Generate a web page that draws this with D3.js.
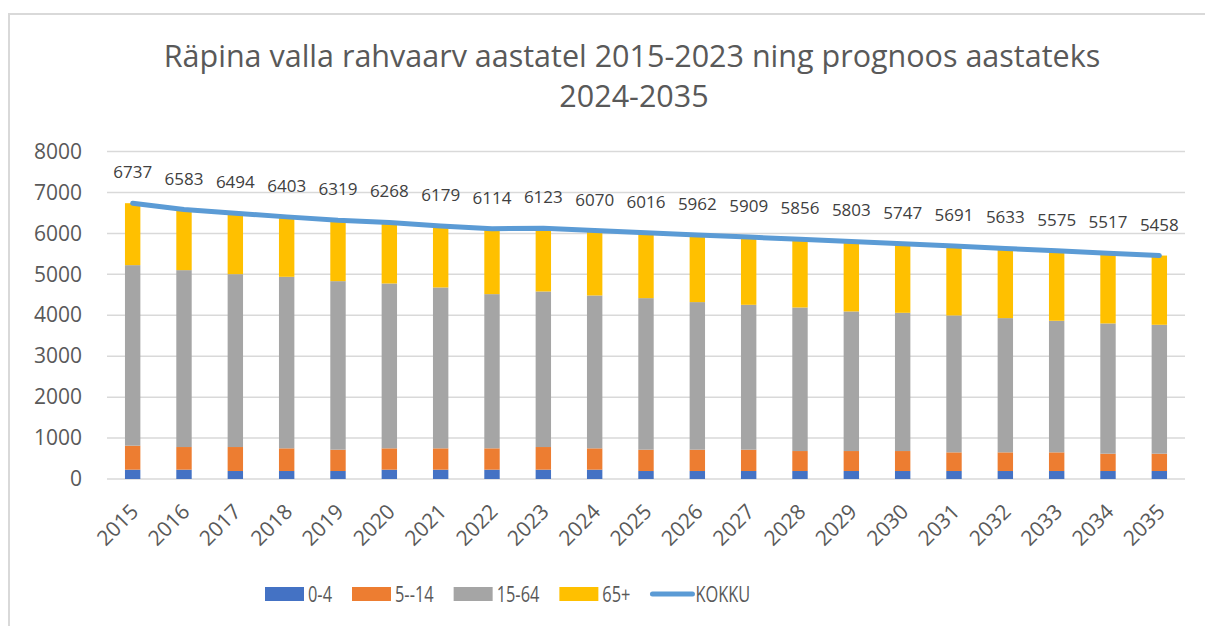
<!DOCTYPE html>
<html>
<head>
<meta charset="utf-8">
<script src="https://cdn.jsdelivr.net/npm/d3@7"></script>
<style>
  body { margin: 0; background: #fff; }
  svg { display: block; font-family: "Open Sans", sans-serif; }
</style>
</head>
<body>
<svg id="chart"></svg>
<script>
// data
const years = ["2015","2016","2017","2018","2019","2020","2021","2022","2023","2024","2025",
               "2026","2027","2028","2029","2030","2031","2032","2033","2034","2035"];
const age0_4   = [228,228,195,195,195,228,228,228,228,228,195,195,195,195,195,195,195,195,195,195,195];
const age5_14  = [586,553,586,554,521,521,521,521,553,521,521,521,521,488,488,488,456,456,456,423,423];
const age15_64 = [4410,4321,4223,4190,4117,4027,3930,3767,3800,3734,3702,3605,3539,3507,3410,3377,3344,3279,3214,3182,3149];
const age65    = [1513,1481,1490,1464,1486,1492,1500,1598,1542,1587,1598,1641,1654,1666,1710,1687,1696,1703,1710,1717,1691];
const kokku    = [6737,6583,6494,6403,6319,6268,6179,6114,6123,6070,6016,5962,5909,5856,5803,5747,5691,5633,5575,5517,5458];
const yTicks   = [0,1000,2000,3000,4000,5000,6000,7000,8000];

const seriesNames  = ["0-4", "5--14", "15-64", "65+"];
const seriesColors = ["#4472c4", "#ed7d31", "#a5a5a5", "#ffc000"];
const lineColor = "#5b9bd5";
const textColor = "#595959";

const WIDTH = 1205, HEIGHT = 626;
const PLOT = { LEFT: 107, RIGHT: 1185, TOP: 151.5, BOTTOM: 479 };

let svg = d3.select("#chart").attr("width", WIDTH).attr("height", HEIGHT);

// chart area border
svg.append("rect")
  .attr("x", 9).attr("y", 14)
  .attr("width", WIDTH + 20).attr("height", HEIGHT + 20)
  .attr("fill", "none").attr("stroke", "#d9d9d9").attr("stroke-width", 2);

// title
svg.append("text")
  .attr("x", 632).attr("y", 67)
  .attr("text-anchor", "middle")
  .attr("font-size", 30.5).attr("fill", textColor)
  .text("Räpina valla rahvaarv aastatel 2015-2023 ning prognoos aastateks");
svg.append("text")
  .attr("x", 634).attr("y", 107)
  .attr("text-anchor", "middle")
  .attr("font-size", 30.5).attr("fill", textColor)
  .text("2024-2035");

let rows = years.map((y, i) => ({
  year: y, "0-4": age0_4[i], "5--14": age5_14[i], "15-64": age15_64[i], "65+": age65[i], total: kokku[i]
}));

let xScale = d3.scaleBand()
  .domain(years)
  .range([PLOT.LEFT, PLOT.RIGHT])
  .paddingInner(0.7)
  .paddingOuter(0.35);

let yScale = d3.scaleLinear()
  .domain([0, 8000])
  .range([PLOT.BOTTOM, PLOT.TOP]);

// gridlines
svg.append("g")
  .selectAll("line")
  .data(yTicks)
  .enter()
    .append("line")
    .attr("x1", PLOT.LEFT).attr("x2", PLOT.RIGHT)
    .attr("y1", d => yScale(d)).attr("y2", d => yScale(d))
    .attr("stroke", "#d9d9d9").attr("stroke-width", 1.5);

// y axis labels
let yAxis = svg.append("g")
  .attr("transform", `translate(${PLOT.LEFT - 25},0)`)
  .call(d3.axisLeft(yScale).tickValues(yTicks).tickSize(0).tickPadding(0).tickFormat(d3.format("d")));
yAxis.select(".domain").remove();
yAxis.selectAll("text")
  .attr("font-family", "Open Sans, sans-serif")
  .attr("font-size", 21).attr("fill", textColor);

// stacked bars
let stack = d3.stack().keys(seriesNames)(rows);
svg.append("g")
  .selectAll("g")
  .data(stack)
  .enter()
    .append("g")
    .attr("fill", (d, i) => seriesColors[i])
    .selectAll("rect")
    .data(d => d)
    .enter()
      .append("rect")
      .attr("x", d => xScale(d.data.year))
      .attr("width", xScale.bandwidth())
      .attr("y", d => yScale(d[1]))
      .attr("height", d => yScale(d[0]) - yScale(d[1]));

// x axis labels
let xAxis = svg.append("g")
  .attr("transform", `translate(0,${PLOT.BOTTOM})`)
  .call(d3.axisBottom(xScale).tickSize(0).tickPadding(0));
xAxis.select(".domain").remove();
xAxis.selectAll("text")
  .attr("font-family", "Open Sans, sans-serif")
  .attr("font-size", 21).attr("fill", textColor)
  .attr("text-anchor", "end")
  .attr("dy", 0)
  .attr("y", 0)
  .attr("transform", "translate(7,34) rotate(-45)");

// total line
let line = d3.line()
  .x(d => xScale(d.year) + xScale.bandwidth() / 2)
  .y(d => yScale(d.total));

svg.append("path")
  .datum(rows)
  .attr("d", line)
  .attr("fill", "none")
  .attr("stroke", lineColor)
  .attr("stroke-width", 5)
  .attr("stroke-linecap", "round")
  .attr("stroke-linejoin", "round");

// total data labels
svg.append("g")
  .selectAll("text")
  .data(rows)
  .enter()
    .append("text")
    .attr("x", d => xScale(d.year) + xScale.bandwidth() / 2)
    .attr("y", d => yScale(d.total) - 25)
    .attr("text-anchor", "middle")
    .attr("font-size", 17)
    .attr("fill", "#404040")
    .text(d => d.total);

// legend (reference text is narrow, so squeeze it horizontally)
const LEGEND_SQUEEZE = 0.78;
let legend = svg.append("g")
  .attr("transform", "translate(265,594)")
  .attr("font-size", 21)
  .attr("fill", textColor);

let legendItems = seriesNames.map((n, i) => ({ name: n, color: seriesColors[i], type: "rect" }))
  .concat([{ name: "KOKKU", color: lineColor, type: "line" }]);

let cursor = 0;
legendItems.forEach(function(item) {
  let g = legend.append("g").attr("transform", `translate(${cursor},0)`);
  if (item.type === "rect") {
    g.append("rect")
      .attr("x", 0).attr("y", -7)
      .attr("width", 39).attr("height", 14)
      .attr("fill", item.color);
  } else {
    g.append("line")
      .attr("x1", 2).attr("x2", 42)
      .attr("y1", 0).attr("y2", 0)
      .attr("stroke", item.color)
      .attr("stroke-width", 5)
      .attr("stroke-linecap", "round");
  }
  let offset = item.type === "rect" ? 43 : 45;
  let t = g.append("text")
    .attr("transform", `translate(${offset},0) scale(${LEGEND_SQUEEZE},1)`)
    .attr("dy", "0.36em")
    .text(item.name);
  cursor += offset + t.node().getComputedTextLength() * LEGEND_SQUEEZE + 20;
});
</script>
</body>
</html>
